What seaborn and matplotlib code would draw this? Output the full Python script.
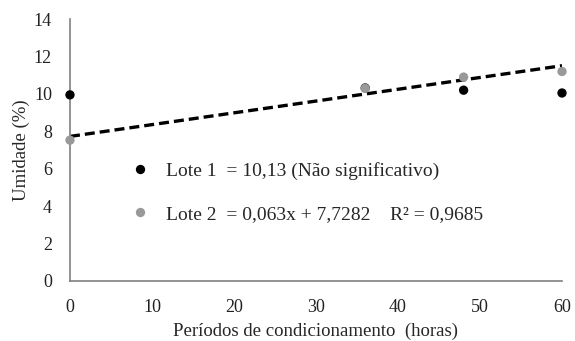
import matplotlib
matplotlib.use("Agg")
import matplotlib.pyplot as plt
import seaborn as sns
import pandas as pd
import numpy as np

horas = [0, 36, 48, 60]
lote1 = [9.95, 10.32, 10.2, 10.05]
lote2 = [7.53, 10.3, 10.9, 11.2]
slope, intercept = 0.063, 7.7282
labels = ["Lote 1  = 10,13 (Não significativo)",
          "Lote 2  = 0,063x + 7,7282    R² = 0,9685"]

sns.set_style("white")
plt.rcParams['font.family'] = ['Liberation Serif', 'DejaVu Serif']

df = pd.DataFrame({
    "horas": horas * 2,
    "umid": lote1 + lote2,
    "Lote": ["Lote 1"] * 4 + ["Lote 2"] * 4,
})

fig = plt.figure(figsize=(5.75, 3.41), dpi=100)
ax = fig.add_axes([0.1217, 0.176, 0.8557, 0.768])

sns.scatterplot(data=df, x="horas", y="umid", hue="Lote",
                palette={"Lote 1": "#000000", "Lote 2": "#999999"},
                s=45, edgecolor="none", ax=ax, zorder=3, clip_on=False)

xs = np.array([0, 60])
sns.lineplot(x=xs, y=intercept + slope * xs, ax=ax, color="black",
             linestyle=(0, (3, 1.5)), linewidth=2.4, zorder=2)

ax.set_xlim(0, 60)
ax.set_ylim(0, 14)
ax.set_xticks(range(0, 61, 10))
ax.set_yticks(range(0, 15, 2))
ax.tick_params(labelsize=13, length=0, colors="#222222")
ax.tick_params(axis="x", pad=13)
ax.tick_params(axis="y", pad=13)
for s in ["top", "right"]:
    ax.spines[s].set_visible(False)
for s in ["left", "bottom"]:
    ax.spines[s].set_color("#808080")
    ax.spines[s].set_linewidth(1.2)

ax.set_xlabel("Períodos de condicionamento  (horas)", fontsize=13.5, labelpad=5)
ax.set_ylabel("Umidade (%)", fontsize=13.5, labelpad=3)

handles, _ = ax.get_legend_handles_labels()
ax.legend(handles[:2], labels, loc="upper left", bbox_to_anchor=(0.068, 0.52),
          frameon=False, fontsize=14, labelspacing=1.3, handletextpad=0.3,
          markerscale=1.0)

fig.savefig("out.png", dpi=100)
